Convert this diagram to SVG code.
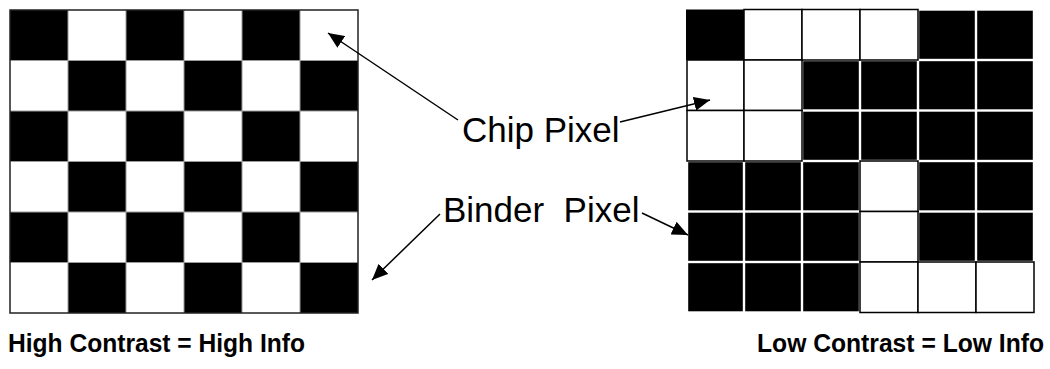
<svg xmlns="http://www.w3.org/2000/svg" width="1050" height="369" viewBox="0 0 1050 369">
  <style>
    .blk { fill: #000; }
    .wht { fill: #fff; stroke: #000; stroke-width: 1.5; }
    .gl { stroke: #9a9a9a; stroke-width: 1; fill: none; }
    .outer { fill: none; stroke: #222; stroke-width: 1.5; }
    .lbl { font-family: "Liberation Sans", Arial, sans-serif; font-size: 35px; fill: #000; white-space: pre; }
    .cap { font-family: "Liberation Sans", Arial, sans-serif; font-size: 25px; font-weight: bold; fill: #000; }
    .conn { stroke: #000; stroke-width: 1.5; fill: none; marker-end: url(#ah); }
  </style>
  <defs>
    <marker id="ah" markerUnits="userSpaceOnUse" markerWidth="18" markerHeight="14" refX="16" refY="7" orient="auto">
      <path d="M0,0 L16,7 L0,14 Z" fill="#000"/>
    </marker>
  </defs>
  <rect width="1050" height="369" fill="#fff"/>

  <g id="left-grid">
    <rect class="blk" x="10" y="10" width="58" height="50.5"/>
    <rect class="blk" x="126" y="10" width="58" height="50.5"/>
    <rect class="blk" x="242" y="10" width="58" height="50.5"/>
    <rect class="blk" x="68" y="60.5" width="58" height="50.5"/>
    <rect class="blk" x="184" y="60.5" width="58" height="50.5"/>
    <rect class="blk" x="300" y="60.5" width="58" height="50.5"/>
    <rect class="blk" x="10" y="111" width="58" height="50.5"/>
    <rect class="blk" x="126" y="111" width="58" height="50.5"/>
    <rect class="blk" x="242" y="111" width="58" height="50.5"/>
    <rect class="blk" x="68" y="161.5" width="58" height="50.5"/>
    <rect class="blk" x="184" y="161.5" width="58" height="50.5"/>
    <rect class="blk" x="300" y="161.5" width="58" height="50.5"/>
    <rect class="blk" x="10" y="212" width="58" height="50.5"/>
    <rect class="blk" x="126" y="212" width="58" height="50.5"/>
    <rect class="blk" x="242" y="212" width="58" height="50.5"/>
    <rect class="blk" x="68" y="262.5" width="58" height="50.5"/>
    <rect class="blk" x="184" y="262.5" width="58" height="50.5"/>
    <rect class="blk" x="300" y="262.5" width="58" height="50.5"/>
    <path class="gl" d="M68,10V313 M126,10V313 M184,10V313 M242,10V313 M300,10V313 M10,60.5H358 M10,111H358 M10,161.5H358 M10,212H358 M10,262.5H358"/>
    <rect class="outer" x="10" y="10" width="348" height="303"/>
  </g>

  <g id="right-grid">
    <rect class="blk" x="686" y="9.5" width="58" height="50.5"/>
    <rect class="blk" x="919.2" y="10.7" width="55.6" height="48.1"/>
    <rect class="blk" x="977.2" y="10.7" width="55.6" height="48.1"/>
    <rect class="blk" x="803.2" y="61.2" width="55.6" height="48.1"/>
    <rect class="blk" x="861.2" y="61.2" width="55.6" height="48.1"/>
    <rect class="blk" x="919.2" y="61.2" width="55.6" height="48.1"/>
    <rect class="blk" x="977.2" y="61.2" width="55.6" height="48.1"/>
    <rect class="blk" x="803.2" y="111.7" width="55.6" height="48.1"/>
    <rect class="blk" x="861.2" y="111.7" width="55.6" height="48.1"/>
    <rect class="blk" x="919.2" y="111.7" width="55.6" height="48.1"/>
    <rect class="blk" x="977.2" y="111.7" width="55.6" height="48.1"/>
    <rect class="blk" x="688.2" y="162.2" width="54.6" height="48.1"/>
    <rect class="blk" x="745.2" y="162.2" width="55.6" height="48.1"/>
    <rect class="blk" x="803.2" y="162.2" width="55.6" height="48.1"/>
    <rect class="blk" x="919.2" y="162.2" width="55.6" height="48.1"/>
    <rect class="blk" x="977.2" y="162.2" width="55.6" height="48.1"/>
    <rect class="blk" x="688.2" y="212.7" width="54.6" height="48.1"/>
    <rect class="blk" x="745.2" y="212.7" width="55.6" height="48.1"/>
    <rect class="blk" x="803.2" y="212.7" width="55.6" height="48.1"/>
    <rect class="blk" x="919.2" y="212.7" width="55.6" height="48.1"/>
    <rect class="blk" x="977.2" y="212.7" width="55.6" height="48.1"/>
    <rect class="blk" x="688.2" y="263.2" width="54.6" height="48.1"/>
    <rect class="blk" x="745.2" y="263.2" width="55.6" height="48.1"/>
    <rect class="blk" x="803.2" y="263.2" width="55.6" height="48.1"/>
    <rect class="wht" x="744" y="9.5" width="58" height="50.5"/>
    <rect class="wht" x="802" y="9.5" width="58" height="50.5"/>
    <rect class="wht" x="860" y="9.5" width="58" height="50.5"/>
    <rect class="wht" x="687" y="60" width="57" height="50.5"/>
    <rect class="wht" x="744" y="60" width="58" height="50.5"/>
    <rect class="wht" x="687" y="110.5" width="57" height="50.5"/>
    <rect class="wht" x="744" y="110.5" width="58" height="50.5"/>
    <rect class="wht" x="860" y="161" width="58" height="50.5"/>
    <rect class="wht" x="860" y="211.5" width="58" height="50.5"/>
    <rect class="wht" x="860" y="262" width="58" height="50.5"/>
    <rect class="wht" x="918" y="262" width="58" height="50.5"/>
    <rect class="wht" x="976" y="262" width="58" height="50.5"/>
  </g>

  <g id="label-chip">
    <text class="lbl" x="462" y="142">Chip Pixel</text>
  </g>
  <g id="label-binder">
    <text class="lbl" x="443" y="222">Binder  Pixel</text>
  </g>
  <g id="caption-high">
    <text class="cap" x="8" y="352" textLength="297" lengthAdjust="spacingAndGlyphs">High Contrast = High Info</text>
  </g>
  <g id="caption-low">
    <text class="cap" x="757" y="352" textLength="287" lengthAdjust="spacingAndGlyphs">Low Contrast = Low Info</text>
  </g>

  <g id="connectors">
    <line class="conn" x1="458" y1="120" x2="328" y2="33"/>
    <line class="conn" x1="620" y1="122" x2="710" y2="100"/>
    <line class="conn" x1="440" y1="214" x2="372" y2="280"/>
    <line class="conn" x1="642" y1="213" x2="688" y2="235"/>
  </g>
</svg>
